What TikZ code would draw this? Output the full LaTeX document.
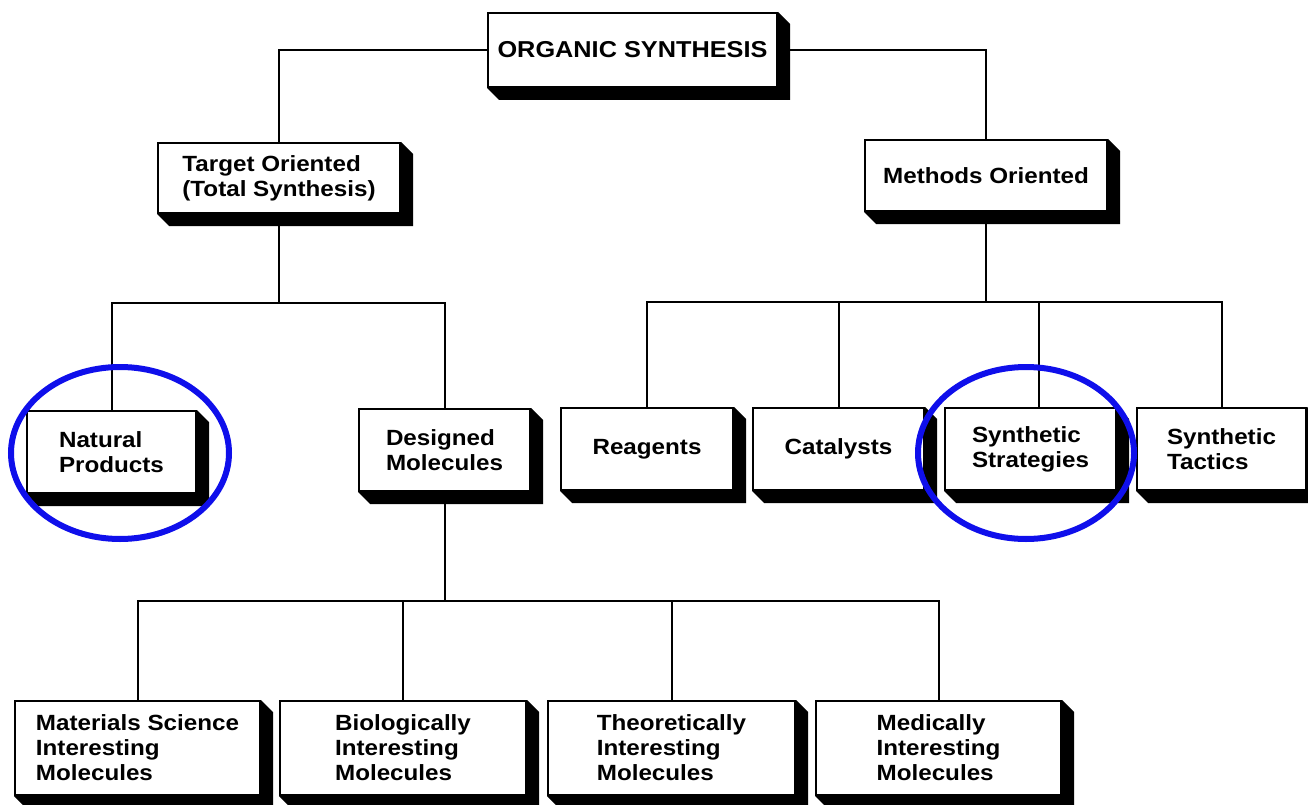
\documentclass[tikz,border=0pt]{standalone}
\usepackage{fontspec}
\setmainfont{Liberation Sans}[FakeStretch=1.1]
\usetikzlibrary{positioning}
\definecolor{ringblue}{RGB}{15,15,235}

\tikzset{
  box/.style={draw, fill=white, line width=2pt, align=left, inner sep=0pt,
    font=\bfseries\fontsize{22pt}{25pt}\selectfont},
  link/.style={line width=2pt},
  ring/.style={draw=ringblue, line width=6pt},
}

\begin{document}
\begin{tikzpicture}[x=1pt,y=-1pt]
    \useasboundingbox (0,0) rectangle (1308,805);
    % top level
    \node[box, minimum width=289pt, minimum height=74pt,
      font=\bfseries\fontsize{23pt}{26pt}\selectfont] (org) at (632.5,50) {ORGANIC SYNTHESIS};
    \node[box, minimum width=242pt, minimum height=70pt] (target) at (279,178) {Target Oriented\\(Total Synthesis)};
    \node[box, minimum width=242pt, minimum height=71pt] (methods) at (986,175.5) {Methods Oriented};
    % middle row
    \node[box, minimum width=169pt, minimum height=82pt] (natural) at (111.5,452) {Natural\\Products};
    \node[box, minimum width=171pt, minimum height=82pt] (designed) at (444.5,450) {Designed\\Molecules};
    \node[box, minimum width=172pt, minimum height=82pt] (reagents) at (647,449) {Reagents};
    \node[box, minimum width=171pt, minimum height=82pt] (catalysts) at (838.5,449) {Catalysts};
    \node[box, minimum width=171pt, minimum height=82pt] (strategies) at (1030.5,449) {Synthetic\\Strategies};
    \node[box, minimum width=169pt, minimum height=82pt] (tactics) at (1221.5,449) {Synthetic\\Tactics};
    % bottom row
    \node[box, minimum width=245pt, minimum height=94pt] (materials) at (137.5,748) {Materials Science\\Interesting\\Molecules};
    \node[box, minimum width=246pt, minimum height=94pt] (biol) at (403,748) {Biologically\\Interesting\\Molecules};
    \node[box, minimum width=247pt, minimum height=94pt] (theo) at (671.5,748) {Theoretically\\Interesting\\Molecules};
    \node[box, minimum width=245pt, minimum height=94pt] (medic) at (938.5,748) {Medically\\Interesting\\Molecules};

    % extruded shadows
    \foreach \n in {org,target,methods,natural,designed,reagents,catalysts,strategies,tactics,materials,biol,theo,medic} {
        \fill (\n.north east) -- ++(12,12) -- ([shift={(12,12)}]\n.south east)
          -- ([shift={(12,12)}]\n.south west) -- (\n.south west) -- (\n.south east) -- cycle;
    }

    % connectors
    \coordinate (tbus) at (279,303);
    \coordinate (mbus) at (986,302);
    \coordinate (dbus) at (446,601);
    \draw[link] (org.west) -| (target.north);
    \draw[link] (org.east) -| (methods.north);
    \draw[link] (target.south) -- (tbus);
    \draw[link] (natural.north) |- (tbus) -| (designed.north);
    \draw[link] (methods.south) -- (mbus);
    \draw[link] (reagents.north) |- (mbus) -| (tactics.north);
    \draw[link] (catalysts.north) -- (catalysts.north |- mbus);
    \draw[link] ([xshift=8pt]strategies.north) -- ([xshift=8pt]strategies.north |- mbus);
    \draw[link] (designed.south) -- (designed.south |- dbus);
    \draw[link] (materials.north) |- (dbus) -| (medic.north);
    \foreach \n in {biol,theo} { \draw[link] (\n.north) -- (\n.north |- dbus); }

    % highlight rings
    \draw[ring] (120,453) ellipse [x radius=109pt, y radius=86pt];
    \draw[ring] (1026,453) ellipse [x radius=108pt, y radius=86pt];
\end{tikzpicture}
\end{document}
